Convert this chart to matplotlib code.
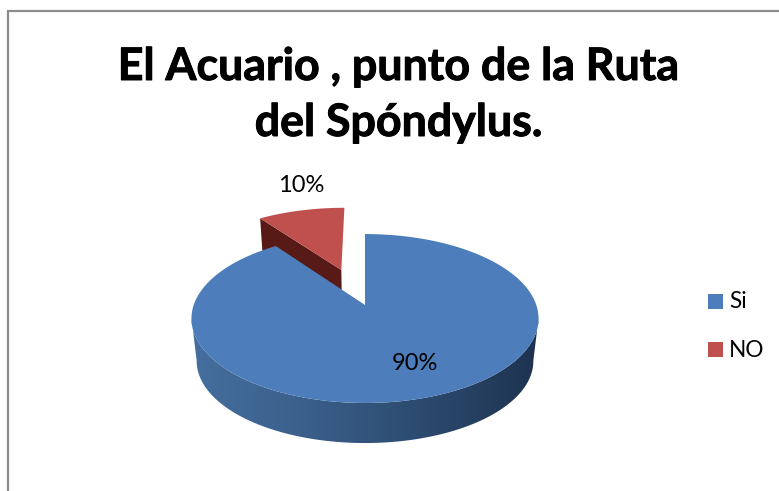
import numpy as np
import matplotlib
matplotlib.use('Agg')
import matplotlib.pyplot as plt
import matplotlib.patheffects as pe
from matplotlib.patches import Polygon, Rectangle
from matplotlib.colors import LinearSegmentedColormap

#Chart data
title_lines = ['El Acuario , punto de la Ruta', 'del Spóndylus.']
categories = ['Si', 'NO']
values = [90, 10]
colors = ['#4d7ebb', '#c0504d']

#Pie projection, everything is in pixels of the figure
cx = 365
cy = 305
rx = 171.3
ry = 82.3
persp = 0.16
depth = 43
lower_scale = 0.97
explode = 0.48

#Circle point to screen, plane 0 is the top face and plane 1 the bottom face
def project(u, v, plane=0):
    w = 1 + persp * v
    s = lower_scale if plane else 1
    return cx + s * rx * u / w, cy + depth * plane - s * ry * v / w

#Outline of a slice, angles in degrees clockwise from 12 o'clock
def slice_outline(start, end, shift=0, plane=0):
    mid = np.radians((start + end) / 2)
    du = shift * np.sin(mid)
    dv = shift * np.cos(mid)
    t = np.radians(np.linspace(start, end, 200))
    x, y = project(np.sin(t) + du, np.cos(t) + dv, plane)
    ax0, ay0 = project(du, dv, plane)
    return np.column_stack([np.r_[ax0, x], np.r_[ay0, y]])

fig = plt.figure(figsize=(7.79, 4.91), dpi=100)
ax = fig.add_axes([0, 0, 1, 1])
ax.set_xlim(0, 779)
ax.set_ylim(491, 0)
ax.axis('off')
plt.rcParams['font.family'] = ['Lato', 'DejaVu Sans']

#Frame of the chart, only top and left are visible
ax.plot([7, 779], [11, 11], color='#8c8c8c', lw=1.6, solid_capstyle='butt')
ax.plot([8, 8], [10, 491], color='#8c8c8c', lw=1.6, solid_capstyle='butt')

#Slice angles from the values
total = sum(values)
big_end = 360 * values[0] / total
small_start = big_end - 360
small_end = 0

#Exploded slice first, it sits behind the big one
red_top = slice_outline(small_start, small_end, explode)
red_low = slice_outline(small_start, small_end, explode, 1)
side = np.vstack([red_top[1], red_top[0], red_low[0], red_low[1]])
ax.add_patch(Polygon(side, closed=True, fc='#571a16', ec='none', zorder=2))
ax.add_patch(Polygon(red_top, closed=True, fc=colors[1], ec='none', zorder=3))

#Front wall of the big slice with a dark gradient to the right
t = np.radians(np.linspace(99, 261, 300))
xt, yt = project(np.sin(t), np.cos(t))
xl, yl = project(np.sin(t), np.cos(t), 1)
wall = Polygon(np.column_stack([np.r_[xt, xl[::-1]], np.r_[yt, yl[::-1]]]),
               closed=True, fc='none', ec='none')
ax.add_patch(wall)
wall_cmap = LinearSegmentedColormap.from_list('wall', ['#456f9f', '#3a5f8a', '#2c4a6e', '#1d324f'])
img = ax.imshow(np.linspace(0, 1, 256).reshape(1, -1), cmap=wall_cmap, aspect='auto',
                extent=[190, 541, 460, 300], zorder=4)
img.set_clip_path(wall)
ax.set_xlim(0, 779)
ax.set_ylim(491, 0)

#Top face of the big slice
ax.add_patch(Polygon(slice_outline(0, big_end), closed=True, fc=colors[0], ec='none', zorder=5))

#Value labels
ax.text(301, 185, '%d%%' % values[1], fontsize=17, color='black', ha='center', va='center', zorder=6)
ax.text(415, 363, '%d%%' % values[0], fontsize=17, color='black', ha='center', va='center', zorder=6)

#Title, with a thin stroke to make the bold heavier
heavy = [pe.withStroke(linewidth=0.7, foreground='black')]
ax.text(398.5, 67, title_lines[0], fontsize=32.2, fontweight='bold', color='black',
        ha='center', va='center', path_effects=heavy)
ax.text(398.5, 123, title_lines[1], fontsize=32.2, fontweight='bold', color='black',
        ha='center', va='center', path_effects=heavy)

#Legend
legend_y = [301, 349.5]
for name, col, ly in zip(categories, colors, legend_y):
    ax.add_patch(Rectangle((708, ly - 7.5), 15, 15, fc=col, ec='none'))
    ax.text(729, ly + 1, name, fontsize=16.3, color='black', ha='left', va='center')

fig.savefig('out.png', dpi=100)
